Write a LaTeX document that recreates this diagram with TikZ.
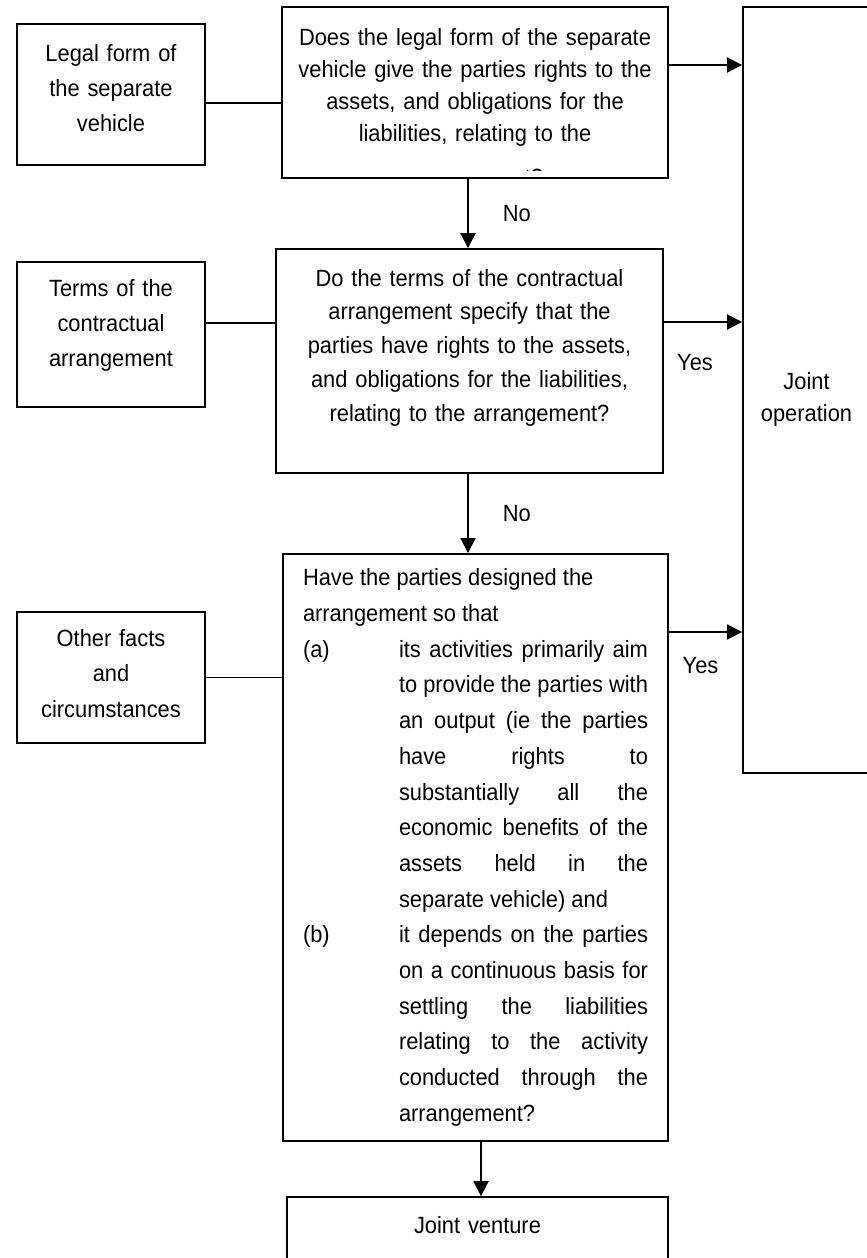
\documentclass[tikz,border=0pt]{standalone}
\usepackage{fontspec}
\setmainfont{Liberation Sans}[FakeStretch=0.93]
\usetikzlibrary{arrows.meta}

\begin{document}
\begin{tikzpicture}[x=1pt,y=-1pt,
    box/.style={draw, line width=1.9pt, inner sep=0pt},
    txt/.style={font=\fontsize{23.5}{#1}\selectfont},
    lift/.style={execute at end node={\endgraf\vspace*{#1pt}}},
    line/.style={line width=1.9pt},
    arrow/.style={line width=1.9pt, -{Triangle[length=15pt,width=15pt]}},
    lbl/.style={inner sep=0pt, font=\fontsize{23.5}{26}\selectfont}]
    \useasboundingbox (0,0) rectangle (867,1258);

    % left column: inputs
    \node[box, txt=35, lift=13, text width=180pt, align=center, minimum width=188pt, minimum height=141pt] (legal) at (111,94.5) {Legal form of\\the separate\\vehicle};
    \node[box, txt=35, lift=19, text width=180pt, align=center, minimum width=188pt, minimum height=145pt] (terms) at (111,334.5) {Terms of the\\contractual\\arrangement};
    \node[box, txt=35.5, lift=8, text width=180pt, align=center, minimum width=188pt, minimum height=131pt] (other) at (111,677.5) {Other facts\\and\\circumstances};

    % middle column: questions
    \node[box, minimum width=386pt, minimum height=171pt] (q1) at (475,92.5) {};
    \begin{scope}
        \clip (q1.north west) rectangle ([yshift=8pt]q1.south east);
        \node[txt=32, inner sep=0pt, text width=380pt, align=center, anchor=north] (q1text) at ([yshift=-22pt]q1.north) {Does the legal form of the separate\\vehicle give the parties rights to the\\assets, and obligations for the\\liabilities, relating to the\\[12pt]arrangement?};
    \end{scope}
    \node[box, txt=33.75, lift=27, text width=370pt, align=center, minimum width=387pt, minimum height=224pt] (q2) at (469.5,361) {Do the terms of the contractual\\arrangement specify that the\\parties have rights to the assets,\\and obligations for the liabilities,\\relating to the arrangement?};
    \node[box, txt=35.7, text width=345pt, align=justify, minimum width=385pt, minimum height=587pt] (q3) at (475.5,847.5) {Have the parties designed the\\arrangement so that\par
        \hangindent=96pt\hangafter=1\makebox[96pt][l]{(a)}its activities primarily aim\linebreak to provide the parties with\linebreak an output (ie the parties\linebreak have rights to\linebreak substantially all the\linebreak economic benefits of the\linebreak assets held in the\linebreak separate vehicle) and\par
        \hangindent=96pt\hangafter=1\makebox[96pt][l]{(b)}it depends on the parties\linebreak on a continuous basis for\linebreak settling the liabilities\linebreak relating to the activity\linebreak conducted through the\linebreak arrangement?\par};

    % outcomes
    \node[box, txt=32, lift=-18, text width=120pt, align=center, minimum width=127pt, minimum height=766pt] (joint) at (806.5,390) {Joint\\operation};
    \node[box, txt=30, lift=27, text width=370pt, align=center, minimum width=381pt, minimum height=83pt] (jv) at (477.5,1238.5) {Joint venture};

    % plain links from the inputs
    \coordinate (legalout) at ([yshift=-8.5pt]legal.east);
    \coordinate (termsout) at ([yshift=11.5pt]terms.east);
    \draw[line] (legalout) -- (legalout -| q1.west);
    \draw[line] (termsout) -- (termsout -| q2.west);
    \draw[line] (other.east) -- (other.east -| q3.west);

    % yes arrows
    \coordinate (q1yes) at ([yshift=27.5pt]q1.east);
    \coordinate (q2yes) at ([yshift=39pt]q2.east);
    \coordinate (q3yes) at ([yshift=215.5pt]q3.east);
    \draw[arrow] (q1yes) -- (q1yes -| joint.west);
    \draw[arrow] (q2yes) -- (q2yes -| joint.west) node[lbl, midway, below=31pt, xshift=-8pt] {Yes};
    \draw[arrow] (q3yes) -- (q3yes -| joint.west) node[lbl, midway, below=24pt, xshift=-5pt] {Yes};

    % no arrows
    \coordinate (q1no) at ([xshift=-7pt]q1.south);
    \coordinate (q2no) at ([xshift=-1.5pt]q2.south);
    \coordinate (q3no) at ([xshift=5.5pt]q3.south);
    \draw[arrow] (q1no) -- (q1no |- q2.north) node[lbl, midway, right=34pt] {No};
    \draw[arrow] (q2no) -- (q2no |- q3.north) node[lbl, midway, right=34pt] {No};
    \draw[arrow] (q3no) -- (q3no |- jv.north);
\end{tikzpicture}
\end{document}
